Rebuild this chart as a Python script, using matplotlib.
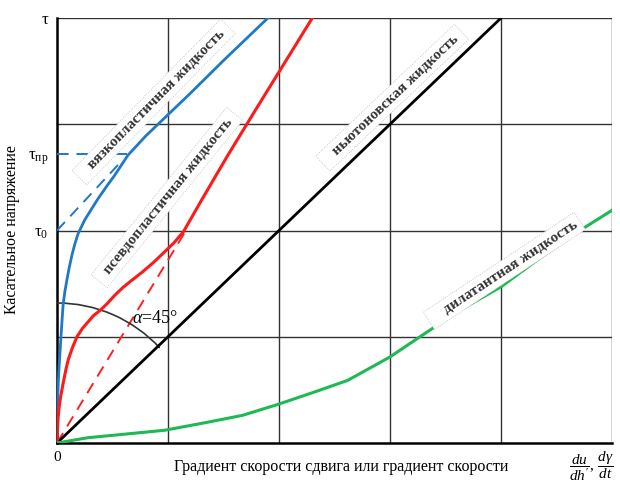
import numpy as np
import matplotlib
matplotlib.use("Agg")
import matplotlib.pyplot as plt
from matplotlib.patches import Arc

plt.rcParams['font.family'] = ['Liberation Serif', 'DejaVu Serif']
plt.rcParams['mathtext.fontset'] = 'custom'
plt.rcParams['mathtext.rm'] = 'Liberation Serif'
plt.rcParams['mathtext.it'] = 'Liberation Serif:italic'

# curves (shear rate, shear stress)
newton_x = [0, 4.0]
newton_y = [0, 4.0]

visco_x = [0, 0.002, 0.006, 0.012, 0.02, 0.03, 0.042, 0.055, 0.07, 0.09, 0.11, 0.135, 0.16, 0.19,
           0.25, 0.31, 0.37, 0.45, 0.52, 0.64, 0.8, 0.97, 1.2, 1.5, 1.9]
visco_y = [0, 0.2, 0.4, 0.58, 0.74, 0.9, 1.1, 1.3, 1.42, 1.54, 1.65, 1.77, 1.87, 1.97,
           2.1, 2.2, 2.3, 2.42, 2.52, 2.71, 2.89, 3.06, 3.29, 3.6, 4.0]

pseudo_x = [0, 0.004, 0.01, 0.02, 0.03, 0.055, 0.08, 0.1, 0.14, 0.18, 0.23, 0.28, 0.33, 0.39, 0.45,
            0.52, 0.59, 0.66, 0.77, 0.87, 0.97, 1.05, 1.14, 1.31, 1.54, 1.78, 2.3]
pseudo_y = [0, 0.12, 0.24, 0.34, 0.42, 0.56, 0.69, 0.78, 0.9, 1.0, 1.08, 1.14, 1.2, 1.25, 1.31,
            1.39, 1.46, 1.52, 1.61, 1.7, 1.8, 1.88, 1.99, 2.3, 2.71, 3.12, 4.0]

dilat_x = [0, 0.28, 0.58, 0.97, 1.33, 1.67, 1.98, 2.32, 2.62, 3.0, 3.27, 3.63, 4.0, 4.35, 4.71, 5.0]
dilat_y = [0, 0.05, 0.08, 0.12, 0.19, 0.26, 0.36, 0.48, 0.59, 0.81, 1.0, 1.25, 1.47, 1.74, 2.0, 2.19]

# yield stress tangent, secant for pseudoplastic
tau0 = 2.0
tau_pr = 2.72
tangent_x = [0, 0.57]
tangent_y = [tau0, 2.64]
secant_x = [0, 1.15]
secant_y = [0, 1.98]

ytick_vals = [4.0, tau_pr, tau0]
ytick_labels = ['τ', r'$\mathrm{τ}_{\mathrm{пр}}$', r'$\mathrm{τ}_0$']

fig = plt.figure(figsize=(6.2, 4.88), dpi=100)
ax = fig.add_axes([57/620, 45/488, 555/620, 425/488])
ax.set_xlim(0, 5)
ax.set_ylim(0, 4)

# grid
for gx in [1, 2, 3, 4, 5]:
    ax.axvline(gx, color='#333333', lw=1.0, zorder=1)
for gy in [1, 2, 3, 4]:
    ax.axhline(gy, color='#333333', lw=1.0, zorder=1)

for s in ['top', 'right']:
    ax.spines[s].set_visible(False)
ax.spines['left'].set_linewidth(1.8)
ax.spines['bottom'].set_linewidth(1.8)

ax.set_xticks([0])
ax.set_xticklabels(['0'], fontsize=11)
ax.set_yticks(ytick_vals)
ax.set_yticklabels(ytick_labels, fontsize=12)
ax.tick_params(length=0, pad=6)

# dashed helpers
ax.plot(tangent_x, tangent_y, color='#1f78c8', lw=1.4, ls=(0, (6, 4)), zorder=3)
ax.plot([0, 0.64], [tau_pr, tau_pr], color='#1f78c8', lw=1.4, ls=(0, (6, 4)), zorder=3)
ax.plot(secant_x, secant_y, color='#ff2020', lw=1.4, ls=(0, (6, 4)), zorder=3)

# curves
ax.plot(newton_x, newton_y, color='black', lw=2.0, zorder=4)
ax.plot(visco_x, visco_y, color='#1f78c8', lw=2.0, zorder=4)
ax.plot(pseudo_x, pseudo_y, color='#ff1a1a', lw=2.2, zorder=4)
ax.plot(dilat_x, dilat_y, color='#1db954', lw=2.2, zorder=4)

# 45 degree angle arc
rx, ry = 140/111, 140/106.25
ax.add_patch(Arc((0, 0), 2*rx, 2*ry, theta1=44, theta2=90, color='#333333', lw=1.2, zorder=3))
ax.text(0.88, 1.17, r'$\alpha$=45°', fontsize=13, ha='center', va='center', zorder=5)

box = dict(boxstyle='square,pad=0.25', fc='white', ec='#bbbbbb', lw=0.6, ls=':')
lab = dict(fontsize=11, fontweight='bold', color='#333333', ha='center', va='center',
           rotation_mode='anchor', bbox=box, zorder=5)
ax.text(0.87, 3.21, '   вязкопластичная жидкость ', rotation=45.5, **lab)
ax.text(0.99, 2.31, '  псевдопластичная жидкость ', rotation=51, **lab)
ax.text(3.02, 3.25, '   ньютоновская жидкость ', rotation=43.5, **lab)
ax.text(4.03, 1.62, '    дилатантная жидкость', rotation=33.5, **lab)

fig.text(12/620, 1 - 230/488, 'Касательное напряжение', rotation=90, fontsize=11.5,
         ha='center', va='center')
fig.text(341/620, 1 - 467/488, 'Градиент скорости сдвига или градиент скорости', fontsize=11.5,
         ha='center', va='center')
fig.text(591/620, 1 - 466/488, r"$\dfrac{du}{dh'},\,\dfrac{d\gamma}{dt}$", fontsize=11,
         ha='center', va='center')

fig.savefig('out.png', dpi=100)
